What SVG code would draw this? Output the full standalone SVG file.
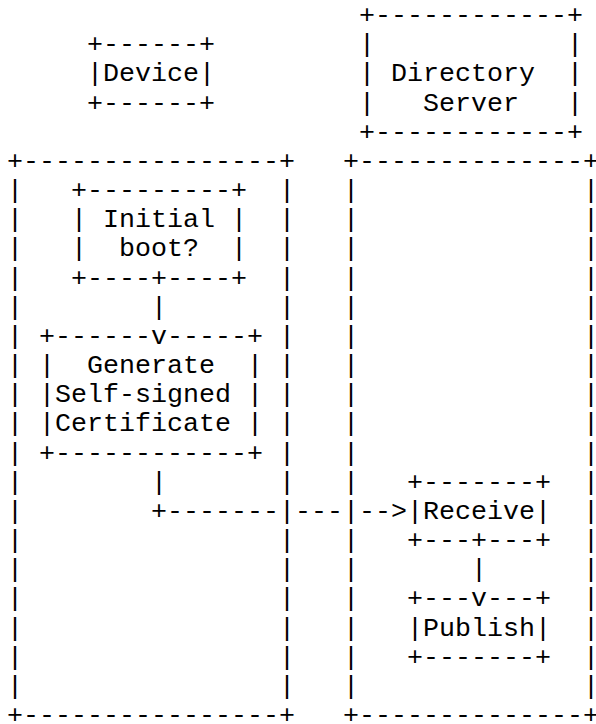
<svg xmlns="http://www.w3.org/2000/svg" width="596" height="724" viewBox="0 0 596 724">
<style>
text{font-family:"Liberation Mono","Courier New",monospace;font-size:26.667px;fill:#000;white-space:pre}
</style>
<rect width="596" height="724" fill="#fff"/>
<g id="device-title" xml:space="preserve">
<text x="87" y="52.17">+------+</text>
<text x="87" y="81.33">|Device|</text>
<text x="87" y="110.5">+------+</text>
</g>
<g id="directory-server-title" xml:space="preserve">
<text x="359" y="23">+------------+</text>
<text x="359" y="52.17">|            |</text>
<text x="359" y="81.33">| Directory  |</text>
<text x="359" y="110.5">|   Server   |</text>
<text x="359" y="139.67">+------------+</text>
</g>
<g id="device-lane" xml:space="preserve">
<text x="7" y="168.83">+----------------+</text>
<text><tspan x="7" y="198">|</tspan><tspan x="7" y="227.17">|</tspan><tspan x="7" y="256.33">|</tspan><tspan x="7" y="285.5">|</tspan><tspan x="7" y="314.67">|</tspan><tspan x="7" y="343.83">|</tspan><tspan x="7" y="373">|</tspan><tspan x="7" y="402.17">|</tspan><tspan x="7" y="431.33">|</tspan><tspan x="7" y="460.5">|</tspan><tspan x="7" y="489.67">|</tspan><tspan x="7" y="518.83">|</tspan><tspan x="7" y="548">|</tspan><tspan x="7" y="577.17">|</tspan><tspan x="7" y="606.33">|</tspan><tspan x="7" y="635.5">|</tspan><tspan x="7" y="664.67">|</tspan><tspan x="7" y="693.83">|</tspan></text>
<text><tspan x="279" y="198">|</tspan><tspan x="279" y="227.17">|</tspan><tspan x="279" y="256.33">|</tspan><tspan x="279" y="285.5">|</tspan><tspan x="279" y="314.67">|</tspan><tspan x="279" y="343.83">|</tspan><tspan x="279" y="373">|</tspan><tspan x="279" y="402.17">|</tspan><tspan x="279" y="431.33">|</tspan><tspan x="279" y="460.5">|</tspan><tspan x="279" y="489.67">|</tspan><tspan x="279" y="518.83">|</tspan><tspan x="279" y="548">|</tspan><tspan x="279" y="577.17">|</tspan><tspan x="279" y="606.33">|</tspan><tspan x="279" y="635.5">|</tspan><tspan x="279" y="664.67">|</tspan><tspan x="279" y="693.83">|</tspan></text>
<text x="7" y="723">+----------------+</text>
</g>
<g id="directory-lane" xml:space="preserve">
<text x="343" y="168.83">+--------------+</text>
<text><tspan x="343" y="198">|</tspan><tspan x="343" y="227.17">|</tspan><tspan x="343" y="256.33">|</tspan><tspan x="343" y="285.5">|</tspan><tspan x="343" y="314.67">|</tspan><tspan x="343" y="343.83">|</tspan><tspan x="343" y="373">|</tspan><tspan x="343" y="402.17">|</tspan><tspan x="343" y="431.33">|</tspan><tspan x="343" y="460.5">|</tspan><tspan x="343" y="489.67">|</tspan><tspan x="343" y="518.83">|</tspan><tspan x="343" y="548">|</tspan><tspan x="343" y="577.17">|</tspan><tspan x="343" y="606.33">|</tspan><tspan x="343" y="635.5">|</tspan><tspan x="343" y="664.67">|</tspan><tspan x="343" y="693.83">|</tspan></text>
<text><tspan x="583" y="198">|</tspan><tspan x="583" y="227.17">|</tspan><tspan x="583" y="256.33">|</tspan><tspan x="583" y="285.5">|</tspan><tspan x="583" y="314.67">|</tspan><tspan x="583" y="343.83">|</tspan><tspan x="583" y="373">|</tspan><tspan x="583" y="402.17">|</tspan><tspan x="583" y="431.33">|</tspan><tspan x="583" y="460.5">|</tspan><tspan x="583" y="489.67">|</tspan><tspan x="583" y="518.83">|</tspan><tspan x="583" y="548">|</tspan><tspan x="583" y="577.17">|</tspan><tspan x="583" y="606.33">|</tspan><tspan x="583" y="635.5">|</tspan><tspan x="583" y="664.67">|</tspan><tspan x="583" y="693.83">|</tspan></text>
<text x="343" y="723">+--------------+</text>
</g>
<g id="initial-boot" xml:space="preserve">
<text x="71" y="198">+---------+</text>
<text x="71" y="227.17">| Initial |</text>
<text x="71" y="256.33">|  boot?  |</text>
<text x="71" y="285.5">+----+----+</text>
</g>
<g id="generate-cert" xml:space="preserve">
<text x="39" y="343.83">+------</text>
<text x="167" y="343.83">-----+</text>
<text x="39" y="373">|  Generate  |</text>
<text x="39" y="402.17">|Self-signed |</text>
<text x="39" y="431.33">|Certificate |</text>
<text x="39" y="460.5">+------------+</text>
</g>
<g id="receive" xml:space="preserve">
<text x="407" y="489.67">+-------+</text>
<text x="407" y="518.83">|Receive|</text>
<text x="407" y="548">+---+---+</text>
</g>
<g id="publish" xml:space="preserve">
<text x="407" y="606.33">+---</text>
<text x="487" y="606.33">---+</text>
<text x="407" y="635.5">|Publish|</text>
<text x="407" y="664.67">+-------+</text>
</g>
<g id="connectors" xml:space="preserve">
<text x="151" y="314.67">|</text>
<text x="151" y="343.83">v</text>
<text x="151" y="489.67">|</text>
<text x="151" y="518.83">+-------</text>
<text x="295" y="518.83">---</text>
<text x="359" y="518.83">--&gt;</text>
<text x="471" y="577.17">|</text>
<text x="471" y="606.33">v</text>
</g>
</svg>
